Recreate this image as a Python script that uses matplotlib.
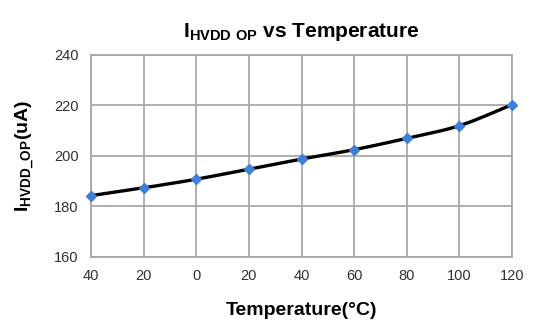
import numpy as np
import matplotlib
matplotlib.use("Agg")
import matplotlib.pyplot as plt

plt.rcParams['font.family'] = ['Liberation Sans', 'DejaVu Sans']
plt.rcParams['mathtext.fontset'] = 'custom'
plt.rcParams['mathtext.rm'] = 'Liberation Sans'
plt.rcParams['mathtext.bf'] = 'Liberation Sans:bold'

temps = [-40, -20, 0, 20, 40, 60, 80, 100, 120]
tick_labels = ["40", "20", "0", "20", "40", "60", "80", "100", "120"]
current = [184.3, 187.4, 190.8, 194.8, 198.8, 202.5, 207.0, 212.0, 220.3]


def smooth(x, y, n=30):
    # catmull-rom through the points, like the spreadsheet's smoothed line
    x = np.asarray(x, float)
    y = np.asarray(y, float)
    px = np.concatenate([[2 * x[0] - x[1]], x, [2 * x[-1] - x[-2]]])
    py = np.concatenate([[2 * y[0] - y[1]], y, [2 * y[-1] - y[-2]]])
    xs, ys = [], []
    t = np.linspace(0, 1, n)
    for i in range(1, len(px) - 2):
        for p, out in ((px, xs), (py, ys)):
            p0, p1, p2, p3 = p[i - 1], p[i], p[i + 1], p[i + 2]
            out.extend(0.5 * (2 * p1 + (-p0 + p2) * t
                              + (2 * p0 - 5 * p1 + 4 * p2 - p3) * t ** 2
                              + (-p0 + 3 * p1 - 3 * p2 + p3) * t ** 3))
    return xs, ys


fig = plt.figure(figsize=(5.52, 3.22), dpi=100)
ax = fig.add_axes([91 / 552, 1 - 257 / 322, 421 / 552, 202 / 322])

sx, sy = smooth(temps, current)
ax.plot(sx, sy, color="black", lw=2.4, zorder=3)
ax.plot(temps, current, "D", color="#3f7fd8", ms=5.5, zorder=4, clip_on=False)

ax.set_xlim(-40, 120)
ax.set_ylim(160, 240)
ax.set_xticks(temps)
ax.set_xticklabels(tick_labels)
ax.set_yticks([160, 180, 200, 220, 240])
ax.grid(True, color="#a8a8a8", lw=1.3)
for s in ax.spines.values():
    s.set_color("#a8a8a8")
    s.set_linewidth(1.3)
ax.tick_params(length=0, labelsize=10.5, colors="#303030")
ax.tick_params(axis="x", pad=9)
ax.tick_params(axis="y", pad=9)

ax.set_title(r"I$_{\mathbf{HVDD\ OP}}$ vs Temperature", fontsize=15,
             fontweight="bold", pad=13)
ax.set_xlabel("Temperature(°C)", fontsize=14, fontweight="bold", labelpad=13)
ax.set_ylabel(r"I$_{\mathbf{HVDD\_OP}}$(uA)", fontsize=14, fontweight="bold",
              labelpad=12)

fig.savefig("out.png", dpi=100)
